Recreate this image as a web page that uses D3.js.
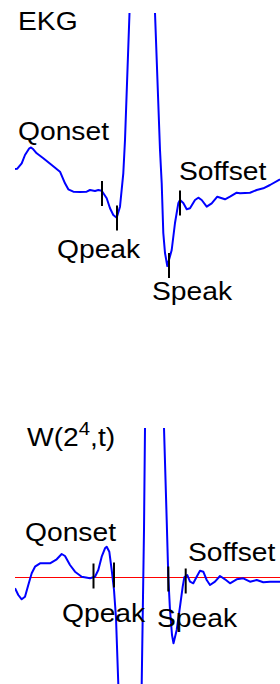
<!DOCTYPE html>
<html>
<head>
<meta charset="utf-8">
<script src="https://cdn.jsdelivr.net/npm/d3@7/dist/d3.min.js"></script>
<style>
  html, body { margin: 0; padding: 0; background: #fff; }
  svg { display: block; }
  text { font-family: "Liberation Sans", Arial, Helvetica, sans-serif; fill: #000; }
</style>
</head>
<body>
<div id="chart"></div>
<script>
// ECG trace, sample index vs amplitude
var ekgT = [0, 2.3, 6.7, 10, 14.3, 16, 18.3, 21.7, 28.3, 36.7, 45, 50, 53.3, 58.3, 65, 71.7,
    75, 80, 83.3, 86.7, 91.7, 95, 98.3, 101.7, 105, 108.3, 110, 114.5, 127, 140, 145, 146.7,
    148.3, 150, 152.3, 156.7, 160, 163.3, 165, 168.3, 171.7, 175, 180, 183.3, 186.7, 191.7,
    196.7, 202.3, 210, 215, 221.7, 225, 235, 241.7, 248.3, 255, 265];
var ekgV = [0.23, 0.233, 0.287, 0.37, 0.437, 0.445, 0.427, 0.387, 0.337, 0.27, 0.203, 0.087,
    0.027, 0.003, 0, 0.003, 0.02, 0.01, 0.02, 0.013, -0.063, -0.163, -0.23, -0.257, -0.147,
    0.187, 0.52, 1.79, 4.92, 1.79, 0.42, 0.09, -0.41, -0.61, -0.74, -0.58, -0.31, -0.113,
    -0.08, -0.11, -0.173, -0.163, -0.08, -0.057, -0.08, -0.147, -0.113, -0.047, -0.073,
    -0.047, -0.007, -0.013, -0.007, 0.02, 0.037, 0.07, 0.127];

// wavelet transform at scale 2^4
var wavT = [0, 3.3, 6.7, 10, 13.3, 16.7, 20, 25, 35, 41.7, 46.7, 50, 55, 60, 66.7, 75, 80,
    83.3, 86.7, 90, 91.7, 94.3, 96.7, 99, 101, 103.3, 104.5, 115, 125.5, 126.7, 129, 130, 131,
    139.5, 148, 149, 151.7, 153.3, 155, 157, 158.5, 161.7, 165, 167.7, 169.3, 172.3, 175,
    178.3, 181.7, 185, 188.3, 191.7, 195, 200, 205, 210, 215, 221.7, 228.3, 235, 241.7,
    248.3, 255, 265];
var wavV = [-0.113, -0.18, -0.223, -0.197, -0.08, 0.037, 0.103, 0.137, 0.137, 0.177, 0.23,
    0.21, 0.12, 0.053, 0.003, -0.013, 0.003, 0.07, 0.203, 0.287, 0.303, 0.253, 0.07, -0.13,
    -0.41, -1.07, -1.63, -4.23, -1.83, -1.07, 0.47, 1.49, 2.27, 3.77, 2.27, 1.49, 0.57, 0,
    -0.33, -0.58, -0.663, -0.53, -0.297, -0.097, -0.003, 0.02, -0.047, -0.063, 0.003, 0.063,
    0.053, -0.03, -0.08, -0.047, 0.01, -0.023, -0.063, -0.023, -0.013, -0.047, -0.03,
    -0.053, -0.047, -0.047];

// fiducial points
var pointNames = ['Qonset', 'Qpeak', 'Speak', 'Soffset'];
var ekgMarkT = [87, 102, 154, 165];
var ekgMarkV = [-0.015, -0.26, -0.735, -0.11];
var wavMarkT = [78.5, 99, 153.3, 170.7];
var wavMarkV = [0.01, 0.02, -0.02, -0.04];

var W = 280, H = 684;
var STRETCH = 1.13;   // text in the source is a bit wider than Arial

var svg = d3.select('#chart').append('svg')
    .attr('width', W)
    .attr('height', H);

var x = d3.scaleLinear().domain([0, 265]).range([15, 280]);

function zip(t, v) {
    return t.map(function (d, i) { return {t: d, v: v[i]}; });
}

function addText(g, px, py, size) {
    return g.append('g')
        .attr('transform', 'translate(' + px + ',' + py + ') scale(' + STRETCH + ',1)')
        .append('text')
        .style('font-size', size + 'px');
}

function drawPanel(id, y, t, v, markT, markV, labelOff, zeroLine) {
    var g = svg.append('g').attr('class', id);
    var r = y.range();

    svg.append('clipPath').attr('id', 'clip-' + id)
        .append('rect')
        .attr('x', x.range()[0])
        .attr('y', r[1])
        .attr('width', x.range()[1] - x.range()[0])
        .attr('height', r[0] - r[1]);

    if (zeroLine) {
        // crisp 1px red zero line
        g.append('line')
            .attr('x1', x.range()[0]).attr('x2', x.range()[1])
            .attr('y1', Math.round(y(0)) + 0.5).attr('y2', Math.round(y(0)) + 0.5)
            .attr('stroke', '#ff0000')
            .attr('stroke-width', 1);
    }

    var line = d3.line()
        .x(function (d) { return x(d.t); })
        .y(function (d) { return y(d.v); });

    g.append('path')
        .datum(zip(t, v))
        .attr('clip-path', 'url(#clip-' + id + ')')
        .attr('d', line)
        .attr('fill', 'none')
        .attr('stroke', '#0000ff')
        .attr('stroke-width', 2)
        .attr('stroke-linejoin', 'round');

    var marks = pointNames.map(function (n, i) {
        return {name: n, t: markT[i], v: markV[i]};
    });

    g.selectAll('.mark')
        .data(marks)
        .enter()
        .append('line')
        .attr('class', 'mark')
        .attr('x1', function (d) { return x(d.t); })
        .attr('x2', function (d) { return x(d.t); })
        .attr('y1', function (d) { return y(d.v) - 12.5; })
        .attr('y2', function (d) { return y(d.v) + 12.5; })
        .attr('stroke', '#000')
        .attr('stroke-width', 2);

    marks.forEach(function (d, i) {
        addText(g, x(d.t) + labelOff[i][0], y(d.v) + labelOff[i][1], 25).text(d.name);
    });
}

// upper panel: EKG
var yTop = d3.scaleLinear().domain([-1.0, 1.79]).range([292, 13]);
drawPanel('ekg', yTop, ekgT, ekgV, ekgMarkT, ekgMarkV,
    [[-84, -53.5], [-60, 40], [-17, 34.5], [-1, -23]], false);
addText(svg, 18, 30, 25).text('EKG');

// lower panel: W(2^4,t)
var yBot = d3.scaleLinear().domain([-1.07, 1.49]).range([684, 428]);
drawPanel('wav', yBot, wavT, wavV, wavMarkT, wavMarkV,
    [[-68.5, -35], [-52, 47], [-11.3, 48], [2.3, -20]], true);

var title = addText(svg, 27, 446, 25);
title.append('tspan').text('W(2');
title.append('tspan').attr('dy', -11).style('font-size', '18px').text('4');
title.append('tspan').attr('dy', 11).text(',t)');
</script>
</body>
</html>
